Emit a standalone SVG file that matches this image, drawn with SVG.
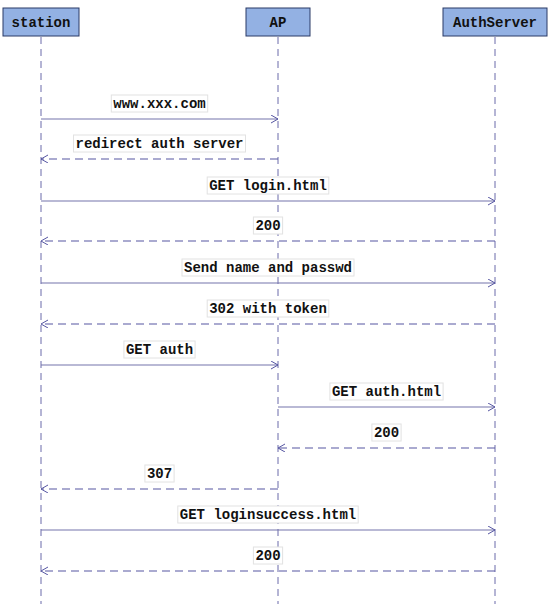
<svg xmlns="http://www.w3.org/2000/svg" width="552" height="604" viewBox="0 0 552 604">
<style>
.actor rect{fill:#93b1e3;stroke:#2a3a66;stroke-width:1}
.actor text{font-family:"Liberation Mono",monospace;font-weight:bold;font-size:14px;fill:#111;text-anchor:middle}
.life{stroke:#6a6aaa;stroke-width:1;stroke-dasharray:7,5}
.msg{stroke:#7575ac;stroke-width:1.2;fill:none;marker-end:url(#arr)}
.ret{stroke:#5656a2;stroke-width:1.2;fill:none;stroke-dasharray:8,5;marker-end:url(#arr)}
.lbl rect{fill:#ffffff;stroke:#e2e2e2;stroke-width:1}
.lbl text{font-family:"Liberation Mono",monospace;font-weight:bold;font-size:14px;fill:#111;text-anchor:middle}
</style>
<defs>
<marker id="arr" markerUnits="userSpaceOnUse" markerWidth="10" markerHeight="10" refX="7" refY="4" orient="auto">
<path d="M0,0 L7,4 L0,8" fill="none" stroke="#5656a2" stroke-width="1"/>
</marker>
</defs>
<rect width="552" height="604" fill="#ffffff"/>
<g id="station" class="actor"><rect x="3" y="8" width="76" height="28"/><text x="41" y="27">station</text></g>
<g id="ap" class="actor"><rect x="246" y="8" width="64" height="28"/><text x="278" y="27">AP</text></g>
<g id="authserver" class="actor"><rect x="443" y="8" width="104" height="28"/><text x="495" y="27">AuthServer</text></g>
<g id="lifelines">
<line class="life" x1="41" y1="37" x2="41" y2="604"/>
<line class="life" x1="278" y1="37" x2="278" y2="604"/>
<line class="life" x1="495" y1="37" x2="495" y2="604"/>
</g>
<g id="connectors">
<line class="msg" x1="41" y1="119" x2="278" y2="119"/>
<line class="ret" x1="278" y1="159" x2="41" y2="159"/>
<line class="msg" x1="41" y1="201" x2="495" y2="201"/>
<line class="ret" x1="495" y1="241" x2="41" y2="241"/>
<line class="msg" x1="41" y1="283" x2="495" y2="283"/>
<line class="ret" x1="495" y1="324" x2="41" y2="324"/>
<line class="msg" x1="41" y1="365" x2="278" y2="365"/>
<line class="msg" x1="278" y1="407" x2="495" y2="407"/>
<line class="ret" x1="495" y1="448" x2="278" y2="448"/>
<line class="ret" x1="278" y1="489" x2="41" y2="489"/>
<line class="msg" x1="41" y1="530" x2="495" y2="530"/>
<line class="ret" x1="495" y1="571" x2="41" y2="571"/>
</g>
<g id="labels">
<g class="lbl"><rect x="111.3" y="95" width="96.4" height="17"/><text x="159.5" y="108">www.xxx.com</text></g>
<g class="lbl"><rect x="73.5" y="135" width="172" height="17"/><text x="159.5" y="148">redirect auth server</text></g>
<g class="lbl"><rect x="207.2" y="177" width="121.6" height="17"/><text x="268" y="190">GET login.html</text></g>
<g class="lbl"><rect x="253.4" y="217" width="29.2" height="17"/><text x="268" y="230">200</text></g>
<g class="lbl"><rect x="182" y="259" width="172" height="17"/><text x="268" y="272">Send name and passwd</text></g>
<g class="lbl"><rect x="207.2" y="300" width="121.6" height="17"/><text x="268" y="313">302 with token</text></g>
<g class="lbl"><rect x="123.9" y="341" width="71.2" height="17"/><text x="159.5" y="354">GET auth</text></g>
<g class="lbl"><rect x="329.9" y="383" width="113.2" height="17"/><text x="386.5" y="396">GET auth.html</text></g>
<g class="lbl"><rect x="371.9" y="424" width="29.2" height="17"/><text x="386.5" y="437">200</text></g>
<g class="lbl"><rect x="144.9" y="465" width="29.2" height="17"/><text x="159.5" y="478">307</text></g>
<g class="lbl"><rect x="177.8" y="506" width="180.4" height="17"/><text x="268" y="519">GET loginsuccess.html</text></g>
<g class="lbl"><rect x="253.4" y="547" width="29.2" height="17"/><text x="268" y="560">200</text></g>
</g>
</svg>
